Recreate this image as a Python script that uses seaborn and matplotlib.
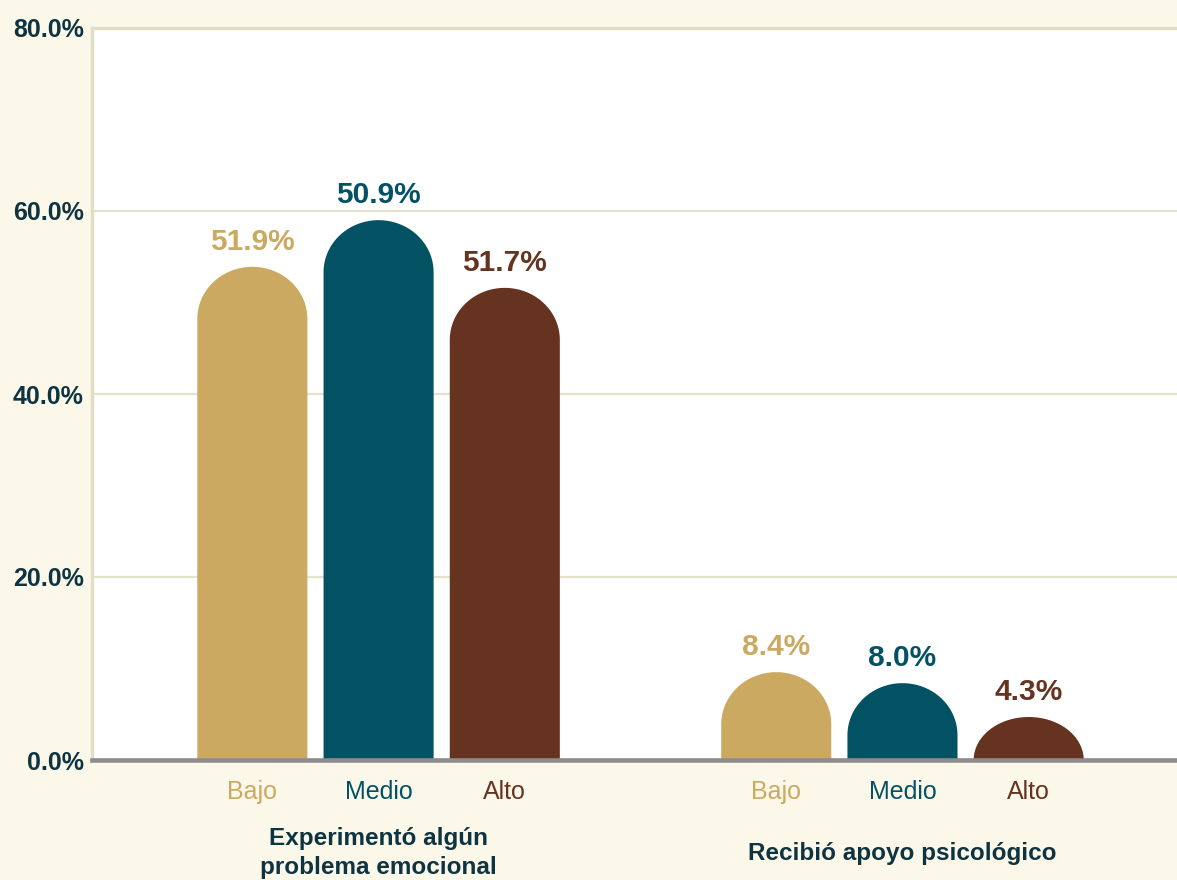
import numpy as np
import pandas as pd
import matplotlib
matplotlib.use("Agg")
import matplotlib.pyplot as plt
from matplotlib.patches import Polygon
import seaborn as sns

# ---- data ----
groups = ["Experimentó algún\nproblema emocional", "Recibió apoyo psicológico"]
levels = ["Bajo", "Medio", "Alto"]
exp_heights = [53.9, 59.0, 51.6]      # drawn bar heights (%)
rec_heights = [9.6, 8.4, 4.7]
exp_labels = ["51.9%", "50.9%", "51.7%"]  # printed labels
rec_labels = ["8.4%", "8.0%", "4.3%"]
yticks = [0, 20, 40, 60, 80]
ytick_labels = ["0.0%", "20.0%", "40.0%", "60.0%", "80.0%"]

colors = ["#CBA960", "#035264", "#663320"]
bg = "#FBF8EA"
navy = "#0E3442"
beige = "#E2DEC6"

df = pd.DataFrame({
    "grupo": [groups[0]] * 3 + [groups[1]] * 3,
    "nivel": levels * 2,
    "valor": exp_heights + rec_heights,
})
value_labels = [exp_labels, rec_labels]

sns.set_style("white")
plt.rcParams["font.family"] = ["Liberation Sans", "DejaVu Sans"]

W, H = 1177, 880
fig = plt.figure(figsize=(W / 100, H / 100), dpi=100, facecolor=bg)
ax_left, ax_right, ax_top, ax_bottom = 92, 1177, 28, 760
ax = fig.add_axes([ax_left / W, 1 - ax_bottom / H, (ax_right - ax_left) / W, (ax_bottom - ax_top) / H])
ax.set_facecolor("white")

sns.barplot(data=df, x="grupo", y="valor", hue="nivel", hue_order=levels,
            order=groups, palette=colors, width=0.7228, gap=0.128,
            legend=False, ax=ax, saturation=1, errorbar=None)

ax.set_xlim(-0.547, 1.524)
ax.set_ylim(0, 80)

# pixel->data conversion for rounded caps
px_per_y = (ax_bottom - ax_top) / 80.0
r_px = 52
ry_full = r_px / px_per_y

for hi, cont in enumerate(ax.containers):
    for xi, bar in enumerate(cont):
        x0 = bar.get_x()
        w = bar.get_width()
        h = bar.get_height()
        bar.set_visible(False)
        ry = min(ry_full, h)
        rx = w / 2
        cx = x0 + rx
        t = np.linspace(np.pi, 0, 60)
        arc_x = cx + rx * np.cos(t)
        arc_y = (h - ry) + ry * np.sin(t)
        xs = np.concatenate([[x0], arc_x, [x0 + w]])
        ys = np.concatenate([[0], arc_y, [0]])
        poly = Polygon(np.column_stack([xs, ys]), closed=True,
                       facecolor=colors[hi], edgecolor="none", zorder=2)
        ax.add_patch(poly)
        # value label
        ax.annotate(value_labels[xi][hi], xy=(cx, h), xytext=(0, 18.2),
                    textcoords="offset points", ha="center", va="center",
                    fontsize=21.5, fontweight="bold", color=colors[hi])
        # level label under axis
        ax.annotate(levels[hi], xy=(cx, 0), xycoords=("data", "axes fraction"),
                    xytext=(0, -23), textcoords="offset points",
                    ha="center", va="center", fontsize=18, color=colors[hi],
                    annotation_clip=False)

# axes styling
ax.set_yticks(yticks)
ax.set_yticklabels(ytick_labels, fontsize=18, fontweight="bold", color=navy)
ax.tick_params(axis="y", length=0, pad=6)
ax.set_xticks([0, 1])
ax.set_xticklabels(groups, fontsize=17.5, fontweight="bold", color=navy,
                   linespacing=1.38)
for lab in ax.get_xticklabels():
    lab.set_va("center")
ax.tick_params(axis="x", length=0, pad=67)
ax.set_xlabel("")
ax.set_ylabel("")

ax.yaxis.grid(True, color="#E5E2CC", linewidth=1.6)
ax.set_axisbelow(True)
for s in ["left", "top"]:
    ax.spines[s].set_visible(True)
    ax.spines[s].set_color(beige)
    ax.spines[s].set_linewidth(2.4)
ax.spines["right"].set_visible(False)
ax.spines["bottom"].set_visible(True)
ax.spines["bottom"].set_color("#8C8C8C")
ax.spines["bottom"].set_linewidth(3.3)
ax.spines["bottom"].set_zorder(5)

fig.savefig("out.png", dpi=100, facecolor=bg)
